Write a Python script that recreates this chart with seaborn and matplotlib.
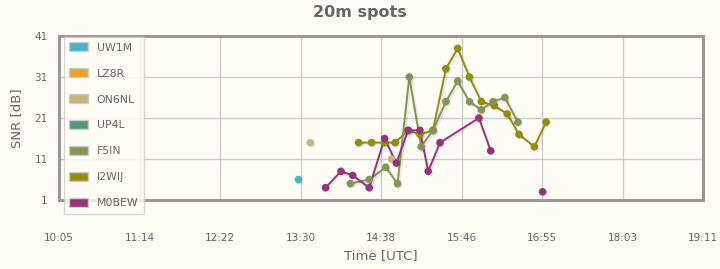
import numpy as np
import pandas as pd
import seaborn as sns
import matplotlib
matplotlib.use("Agg")
import matplotlib.pyplot as plt
from matplotlib.patches import Patch
import matplotlib.patheffects as pe

# ---- data (time in minutes after midnight UTC, SNR in dB) ----
series_names = ["UW1M", "LZ8R", "ON6NL", "UP4L", "F5IN", "I2WIJ", "M0BEW"]
series_colors = ["#4bb2c5", "#eaa228", "#c5b47f", "#579575", "#839557", "#958c12", "#953579"]

uw1m_t = [808]
uw1m_snr = [6]
uw1m_seg = [0]

on6nl_t = [818, 887]
on6nl_snr = [15, 11]
on6nl_seg = [0, 1]

f5in_t = [852, 868, 882, 892, 902, 912, 922, 933, 943, 953, 963, 973, 983, 994]
f5in_snr = [5, 6, 9, 5, 31, 14, 18, 25, 30, 25, 23, 25, 26, 20]
f5in_seg = [0] * 14

i2wij_t = [859, 870, 881, 890, 901, 911, 922, 933, 943, 953, 963, 974, 985, 995, 1008, 1018]
i2wij_snr = [15, 15, 15, 15, 18, 17, 18, 33, 38, 31, 25, 24, 22, 17, 14, 20]
i2wij_seg = [0] * 16

m0bew_t = [831, 844, 854, 868, 881, 891, 901, 911, 918, 928, 961, 971, 1015]
m0bew_snr = [4, 8, 7, 4, 16, 10, 18, 18, 8, 15, 21, 13, 3]
m0bew_seg = [0] * 12 + [1]

xtick_labels = ["10:05", "11:14", "12:22", "13:30", "14:38", "15:46", "16:55", "18:03", "19:11"]
ytick_values = [1, 11, 21, 31, 41]

frames = []
for name, t, s, g in [("UW1M", uw1m_t, uw1m_snr, uw1m_seg),
                      ("ON6NL", on6nl_t, on6nl_snr, on6nl_seg),
                      ("F5IN", f5in_t, f5in_snr, f5in_seg),
                      ("I2WIJ", i2wij_t, i2wij_snr, i2wij_seg),
                      ("M0BEW", m0bew_t, m0bew_snr, m0bew_seg)]:
    frames.append(pd.DataFrame({"call": name, "t": t, "snr": s, "seg": g}))
df = pd.concat(frames, ignore_index=True)
palette = dict(zip(series_names, series_colors))

bg = "#fffdf6"
sns.set_theme(style="white")
plt.rcParams['font.family'] = ['DejaVu Sans']

fig = plt.figure(figsize=(7.2, 2.69), dpi=100, facecolor=bg)
ax = fig.add_axes([59/720, 1-200/269, 644/720, 164/269])
ax.set_facecolor(bg)

xmin, xmax = 605, 1151
ax.set_xlim(xmin, xmax)
ax.set_ylim(1, 41)
xticks = np.linspace(xmin, xmax, len(xtick_labels))
ax.set_xticks(xticks)
ax.set_xticklabels(xtick_labels)
ax.set_yticks(ytick_values)
ax.grid(True, color="#cccccc", linewidth=1.0)
ax.set_axisbelow(True)

shadow_line = [pe.SimpleLineShadow(offset=(1.0, -1.0), shadow_color="k", alpha=0.08, linewidth=2.2), pe.Normal()]

order = ["I2WIJ", "F5IN", "ON6NL", "UW1M", "M0BEW"]
for name in order:
    sub = df[df["call"] == name]
    c = palette[name]
    lines_before = len(ax.lines)
    sns.lineplot(data=sub, x="t", y="snr", units="seg", estimator=None, color=c,
                 linewidth=1.4, ax=ax, legend=False, sort=False)
    for ln in ax.lines[lines_before:]:
        ln.set_path_effects(shadow_line)
    sns.scatterplot(data=sub, x="t", y="snr", color=c, s=30, edgecolor="none",
                    ax=ax, legend=False, zorder=3)
    coll = ax.collections[-1]
    coll.set_path_effects([pe.SimplePatchShadow(offset=(1.0, -1.0), shadow_rgbFace="k", alpha=0.1), pe.Normal()])

for side in ["left", "bottom", "top", "right"]:
    ax.spines[side].set_visible(True)
    ax.spines[side].set_color("#999999")
    ax.spines[side].set_linewidth(2.2)

ax.tick_params(axis="both", colors="#999999", length=5, width=1, direction="out",
               labelcolor="#666666", labelsize=7.5)
ax.tick_params(axis="x", pad=19)
ax.tick_params(axis="y", pad=3)

ax.set_xlabel("Time [UTC]", color="#666666", fontsize=9.5, labelpad=4)
ax.set_ylabel("SNR [dB]", color="#666666", fontsize=9.5, labelpad=8)
fig.text(0.5, 1 - 13/269, "20m spots", ha="center", va="center", color="#666666",
         fontsize=11.5, fontweight="bold")

handles = [Patch(facecolor=c, edgecolor="#cccccc", linewidth=1.0) for c in series_colors]
leg = ax.legend(handles, series_names, loc="upper left",
                bbox_to_anchor=(5/644, 1 - 1/164), frameon=True, fancybox=False,
                labelspacing=1.45, handlelength=1.7, handleheight=0.9, handletextpad=0.8,
                borderpad=0.5, fontsize=7.8, labelcolor="#666666", borderaxespad=0)
leg.get_frame().set_edgecolor("#cccccc")
leg.get_frame().set_facecolor("#fffdf6")
leg.get_frame().set_linewidth(1.0)
leg.set_zorder(10)

fig.savefig("out.png", dpi=100, facecolor=bg)
